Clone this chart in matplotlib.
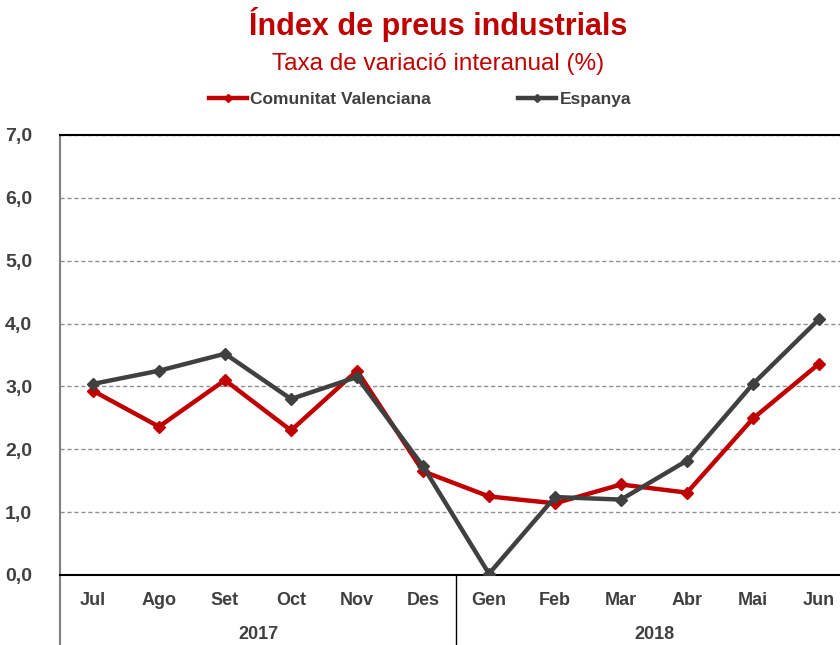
import matplotlib.pyplot as plt
import numpy as np

months = ['Jul', 'Ago', 'Set', 'Oct', 'Nov', 'Des', 'Gen', 'Feb', 'Mar', 'Abr', 'Mai', 'Jun']
years = ['2017', '2018']
valenciana = [2.93, 2.36, 3.10, 2.30, 3.25, 1.65, 1.25, 1.14, 1.44, 1.31, 2.49, 3.36]
espanya = [3.04, 3.25, 3.52, 2.80, 3.15, 1.73, 0.02, 1.24, 1.20, 1.82, 3.04, 4.07]

plt.rcParams['font.family'] = ['Liberation Sans Narrow', 'Liberation Sans', 'DejaVu Sans']

red = '#c00000'
dark = '#404040'
txt = '#404040'

W, H = 840, 645
fig = plt.figure(figsize=(W / 100, H / 100), dpi=100)
# axes box in pixels: left 60, right 852 (runs past the figure edge), top 135, bottom 575
ax = fig.add_axes([60 / W, (H - 575) / H, (852 - 60) / W, (575 - 135) / H])

x = np.arange(len(months))
ax.plot(x, valenciana, color=red, lw=3.2, marker='D', ms=6, label='Comunitat Valenciana', zorder=3)
ax.plot(x, espanya, color=dark, lw=3.2, marker='D', ms=6, label='Espanya', zorder=4)

ax.set_xlim(-0.5, len(months) - 0.5)
ax.set_ylim(0, 7)
ax.set_yticks(np.arange(0, 8, 1))
ax.set_yticklabels([f'{v:.1f}'.replace('.', ',') for v in range(8)],
                   fontsize=14, fontweight='bold', color=txt)
ax.tick_params(axis='y', length=0, pad=20)
ax.set_xticks([])
ax.yaxis.grid(True, color='#909090', ls=(0, (3, 2)), lw=1)
ax.set_axisbelow(True)

ax.spines['right'].set_visible(False)
ax.spines['top'].set_color('black')
ax.spines['top'].set_linewidth(1.5)
ax.spines['bottom'].set_color('black')
ax.spines['bottom'].set_linewidth(1.5)
ax.spines['left'].set_color('#808080')
ax.spines['left'].set_linewidth(1.5)

# category labels below the axis
for i, m in enumerate(months):
    ax.text(i, -0.41, m, ha='center', va='center', fontsize=13, fontweight='bold',
            color=txt, clip_on=False)
for j, yr in enumerate(years):
    ax.text(2.5 + 6 * j, -0.95, yr, ha='center', va='center', fontsize=13,
            fontweight='bold', color=txt, clip_on=False)

# left axis extension and year divider
ax.plot([-0.5, -0.5], [0, -1.2], color='#808080', lw=1.5, clip_on=False)
ax.plot([5.5, 5.5], [0, -1.2], color='black', lw=1, clip_on=False)

fig.text(438 / W, 1 - 24 / H, 'Índex de preus industrials', ha='center', va='center',
         fontsize=22, fontweight='bold', color=red)
fig.text(438 / W, 1 - 64 / H, 'Taxa de variació interanual (%)', ha='center', va='center',
         fontsize=17.5, color=red)

leg = fig.legend(loc='center', bbox_to_anchor=(420 / W, 1 - 99 / H), ncol=2, frameon=False,
                 prop={'weight': 'bold', 'size': 12.5}, columnspacing=5.0, handlelength=2.2,
                 handletextpad=0.2, markerscale=0.7)
for t in leg.get_texts():
    t.set_color(txt)

fig.savefig('out.png', dpi=100)
